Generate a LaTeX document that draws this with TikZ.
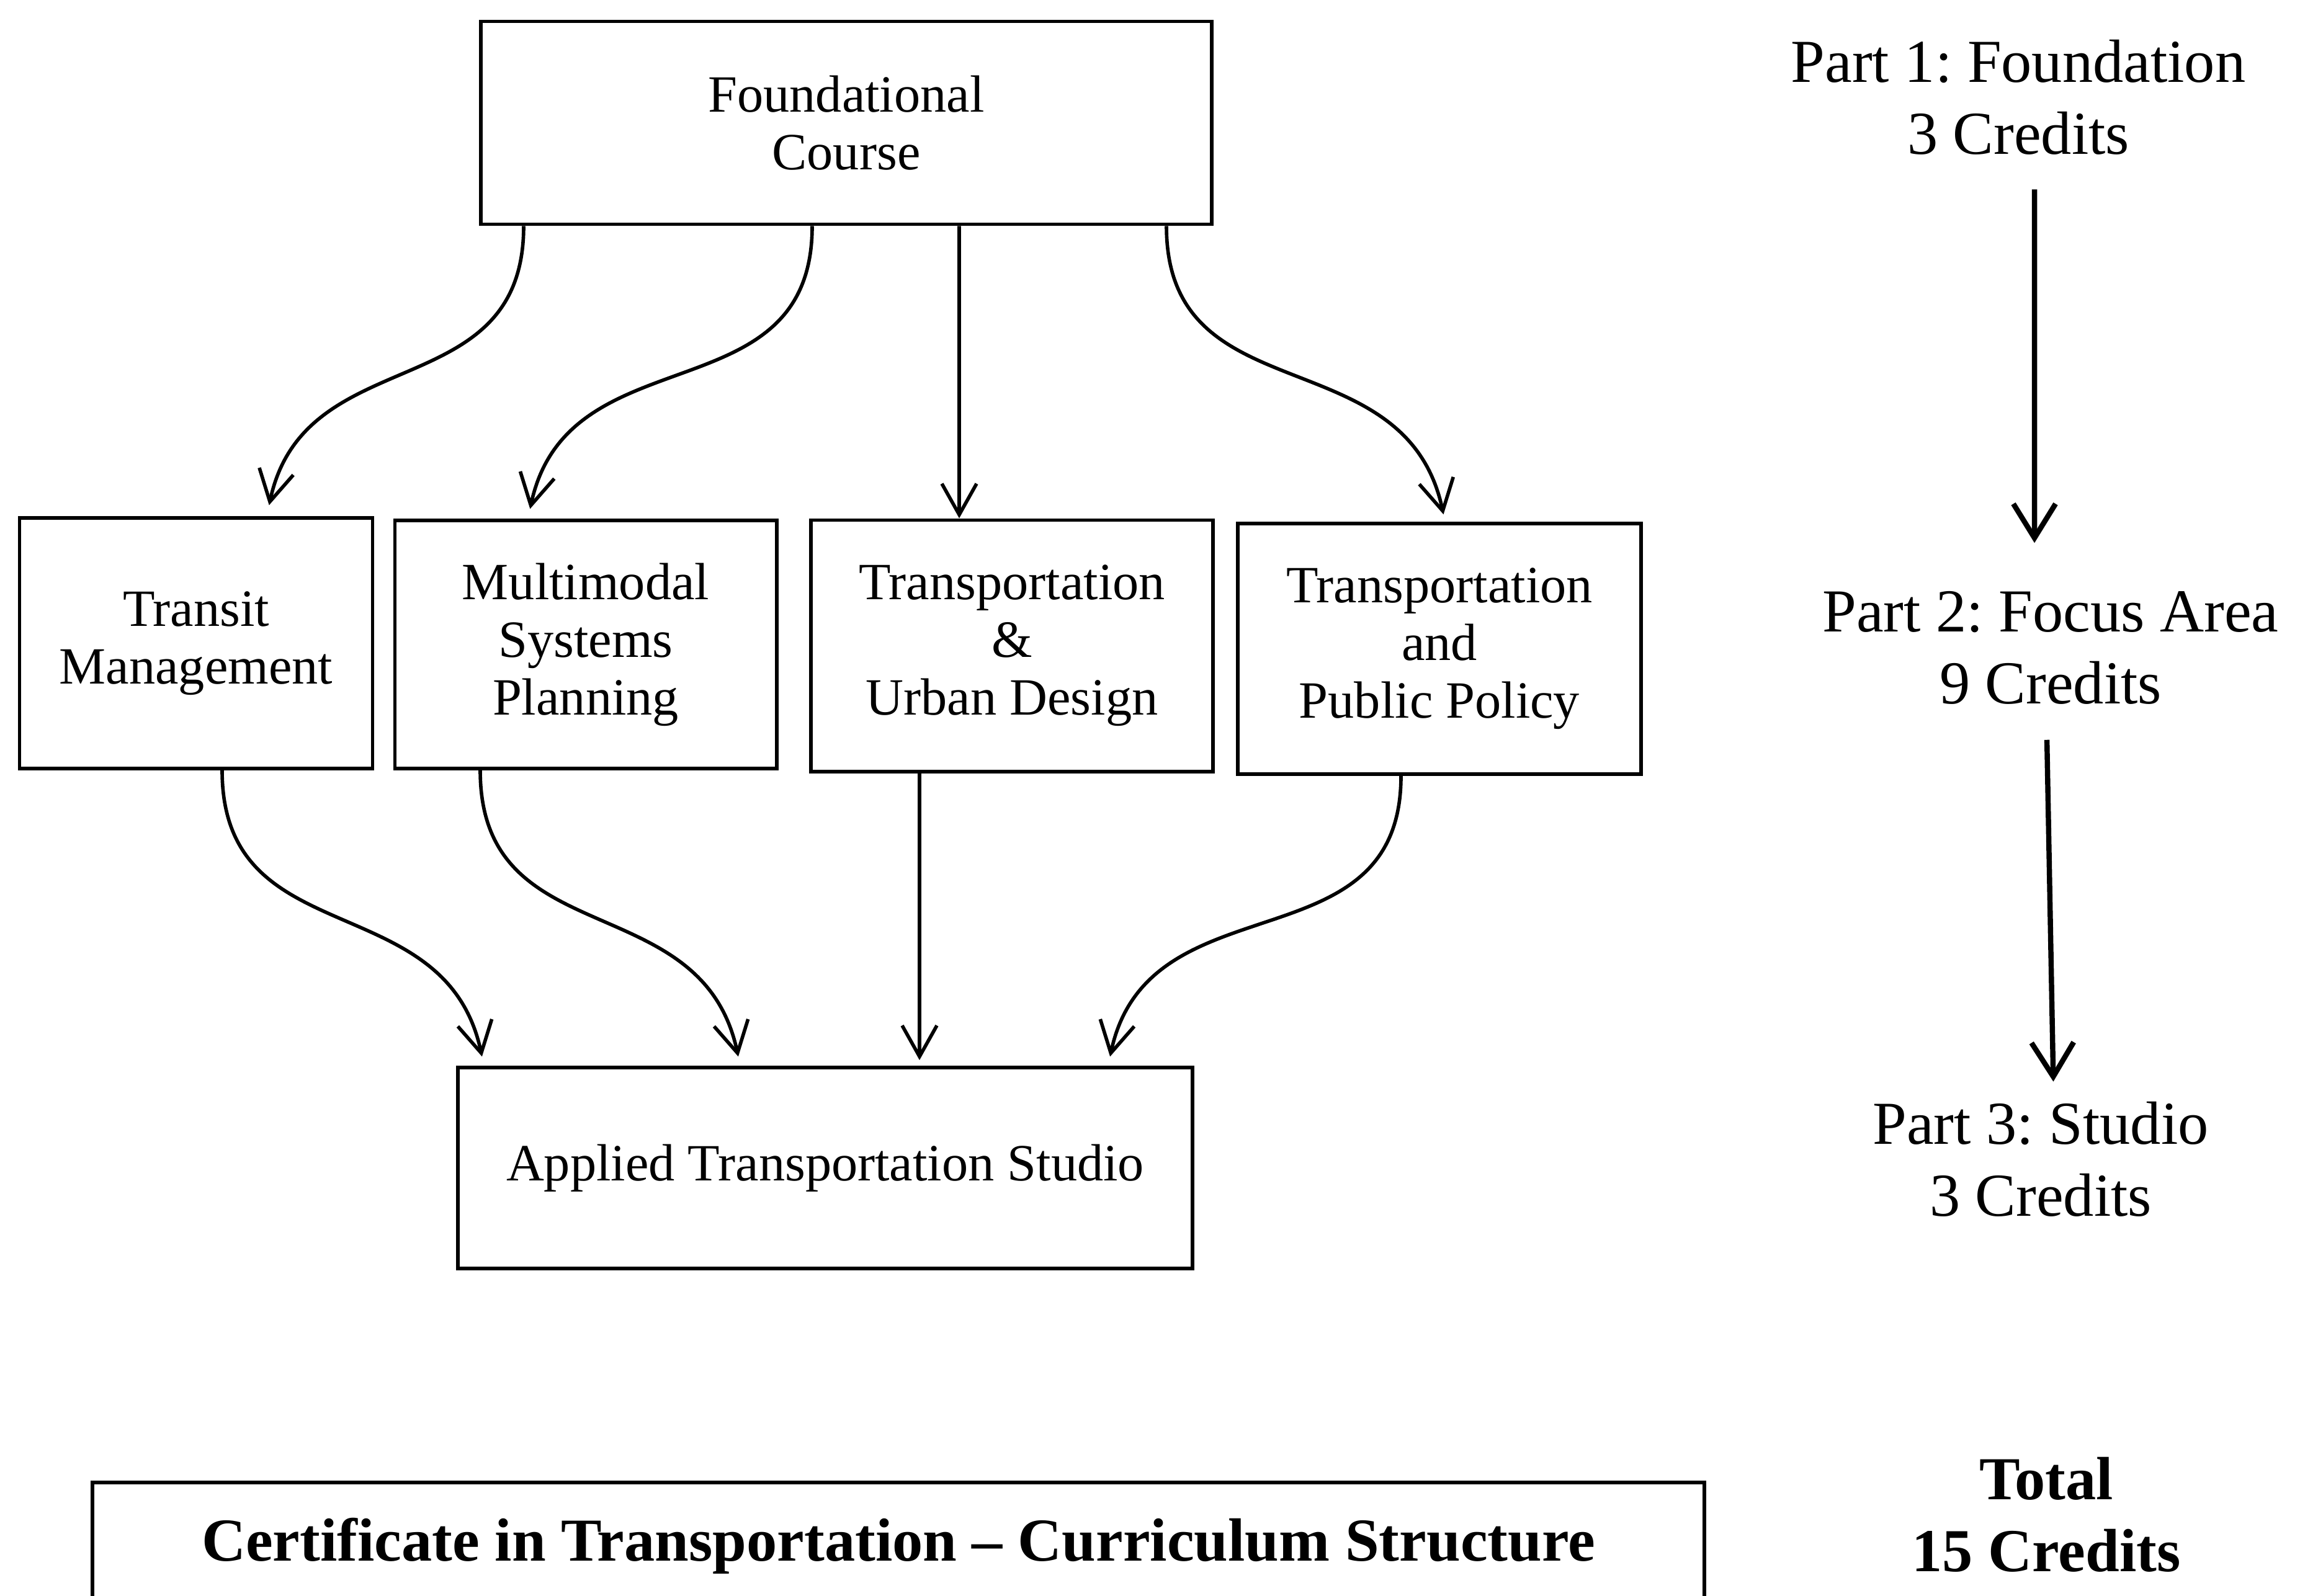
\documentclass[tikz,border=0pt]{standalone}
\usepackage{fontspec}
\setmainfont{Liberation Serif}
\frenchspacing
\usetikzlibrary{arrows.meta, positioning}
\tikzset{
  course/.style={draw, line width=1.7pt, align=center, font=\fontsize{24}{26.5}\selectfont}, % boxes of the courses
  part/.style={align=center, inner sep=0pt, font=\fontsize{28}{33}\selectfont}, % labels on the right
  flow/.style={-{Straight Barb[length=5mm, width=5.6mm]}, line width=1.6pt, looseness=1.2}, % arrows between courses
  partflow/.style={-{Straight Barb[length=5.5mm, width=6.8mm]}, line width=2.4pt}, % arrows between parts
}

\begin{document}
\begin{tikzpicture}
  \clip (0,0) rectangle (37.07,-25.72);

  % courses
  \node[course, minimum width=11.78cm, minimum height=3.27cm] (found) at (13.64,-1.98) {Foundational\\Course};
  \node[course, minimum width=5.69cm, minimum height=4.04cm] (transit) at (3.16,-10.37) {Transit\\Management};
  \node[course, minimum width=6.15cm, minimum height=4.0cm] (multi) at (9.44,-10.39) {Multimodal\\Systems\\Planning};
  \node[course, minimum width=6.48cm, minimum height=4.05cm] (urban) at (16.31,-10.41) {Transportation\\\&\\Urban Design};
  \node[course, minimum width=6.5cm, minimum height=4.04cm] (policy) at (23.20,-10.46) {Transportation\\and\\Public Policy};
  \node[course, minimum width=11.84cm, minimum height=3.24cm] (studio) at (13.30,-18.83) {Applied Transportation Studio};
  \node[course, font=\fontsize{28}{33}\selectfont\bfseries, minimum width=25.98cm, minimum height=2.04cm] (cert) at (14.48,-24.92) {Certificate in Transportation -- Curriculum Structure};

  % parts
  \node[part] (p1) at (32.53,-1.57) {Part 1: Foundation\\3 Credits};
  \node[part] (p2) at (33.05,-10.44) {Part 2: Focus Area\\9 Credits};
  \node[part] (p3) at (32.89,-18.69) {Part 3: Studio\\3 Credits};
  \node[part, font=\fontsize{28}{33}\selectfont\bfseries] (total) at (32.98,-24.42) {Total\\15 Credits};

  % foundation to focus areas
  \draw[flow, shorten >=0.18cm] ([xshift=-5.2cm]found.south) to[out=-90, in=78] ([xshift=1.14cm]transit.north);
  \draw[flow, shorten >=0.16cm] ([xshift=-0.55cm]found.south) to[out=-90, in=78] ([xshift=-0.93cm]multi.north);
  \draw[flow] ([xshift=1.82cm]found.south) -- ([xshift=-0.85cm]urban.north);
  \draw[flow, shorten >=0.12cm] ([xshift=5.16cm]found.south) to[out=-90, in=102] ([xshift=0.09cm]policy.north);

  % focus areas to studio
  \draw[flow, shorten >=0.15cm] ([xshift=0.42cm]transit.south) to[out=-90, in=102] ([xshift=-5.5cm]studio.north);
  \draw[flow, shorten >=0.15cm] ([xshift=-1.7cm]multi.south) to[out=-90, in=102] ([xshift=-1.37cm]studio.north);
  \draw[flow, shorten >=0.09cm] ([xshift=-1.49cm]urban.south) -- ([xshift=1.52cm]studio.north);
  \draw[flow, shorten >=0.15cm] ([xshift=-0.62cm]policy.south) to[out=-90, in=78] ([xshift=4.56cm]studio.north);

  % parts
  \draw[partflow, shorten <=0.55cm, shorten >=0.77cm] ([xshift=0.26cm]p1.south) -- ([xshift=-0.26cm]p2.north);
  \draw[partflow, shorten <=0.57cm, shorten >=0.32cm] ([xshift=-0.07cm]p2.south) -- ([xshift=0.21cm]p3.north);
\end{tikzpicture}
\end{document}
